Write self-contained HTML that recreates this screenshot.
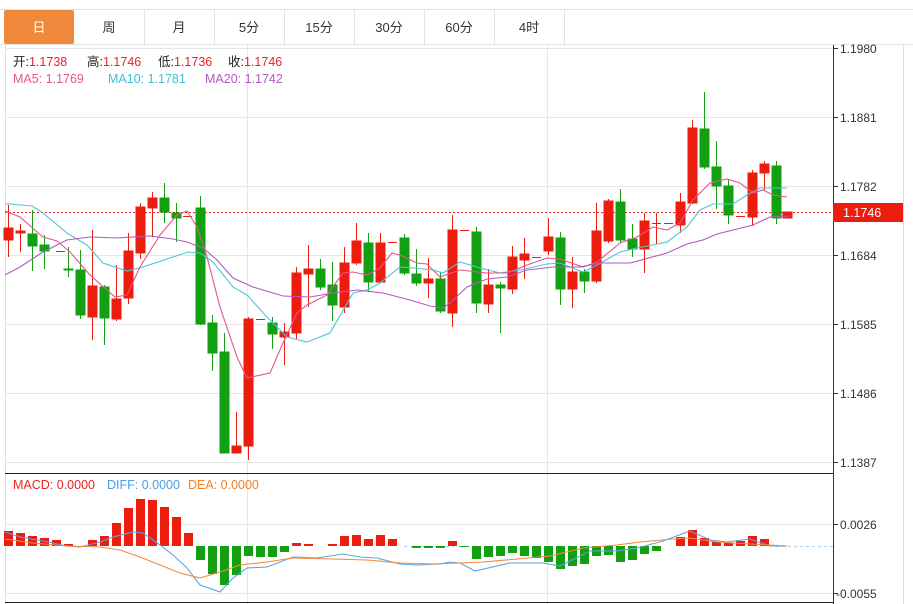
<!DOCTYPE html>
<html><head><meta charset="utf-8"><style>
html,body{margin:0;padding:0;background:#fff;}
svg{display:block;font-family:"Liberation Sans","Noto Sans CJK SC",sans-serif;}
</style></head><body>
<svg width="913" height="604" viewBox="0 0 913 604" xmlns="http://www.w3.org/2000/svg">
<!-- tab bar -->
<line x1="0" y1="9.5" x2="913" y2="9.5" stroke="#e2e2e2"/>
<line x1="0" y1="44.5" x2="913" y2="44.5" stroke="#e2e2e2"/>
<rect x="4" y="10" width="70" height="34" rx="2" fill="#f0893c"/>
<g stroke="#e2e2e2">
<line x1="144.5" y1="10" x2="144.5" y2="44"/><line x1="214.5" y1="10" x2="214.5" y2="44"/><line x1="284.5" y1="10" x2="284.5" y2="44"/><line x1="354.5" y1="10" x2="354.5" y2="44"/><line x1="424.5" y1="10" x2="424.5" y2="44"/><line x1="494.5" y1="10" x2="494.5" y2="44"/><line x1="564.5" y1="10" x2="564.5" y2="44"/>
</g>
<g font-size="13" text-anchor="middle" fill="#333">
<text x="39" y="32" fill="#fff">日</text><text x="109" y="32">周</text><text x="179" y="32">月</text><text x="249" y="32">5分</text><text x="319" y="32">15分</text><text x="389" y="32">30分</text><text x="459" y="32">60分</text><text x="529" y="32">4时</text>
</g>
<!-- frame -->
<line x1="5.5" y1="45" x2="5.5" y2="604" stroke="#ddd"/>
<line x1="903.5" y1="45" x2="903.5" y2="604" stroke="#ddd"/>
<g stroke="#e6e6e6">
<line x1="5" y1="48.5" x2="833" y2="48.5"/><line x1="5" y1="117.5" x2="833" y2="117.5"/><line x1="5" y1="186.5" x2="833" y2="186.5"/><line x1="5" y1="255.5" x2="833" y2="255.5"/><line x1="5" y1="324.5" x2="833" y2="324.5"/><line x1="5" y1="393.5" x2="833" y2="393.5"/><line x1="5" y1="462.5" x2="833" y2="462.5"/>
<line x1="5" y1="524.5" x2="833" y2="524.5"/><line x1="5" y1="593.5" x2="833" y2="593.5"/>
<line x1="247.5" y1="45" x2="247.5" y2="604"/><line x1="547.5" y1="45" x2="547.5" y2="604"/>
</g>
<line x1="833.5" y1="45" x2="833.5" y2="604" stroke="#333"/>
<line x1="5" y1="473.5" x2="833" y2="473.5" stroke="#222"/>
<line x1="5" y1="602.5" x2="833" y2="602.5" stroke="#222"/>
<g stroke="#333"><line x1="833" y1="48.5" x2="838" y2="48.5"/><line x1="833" y1="117.5" x2="838" y2="117.5"/><line x1="833" y1="186.5" x2="838" y2="186.5"/><line x1="833" y1="255.5" x2="838" y2="255.5"/><line x1="833" y1="324.5" x2="838" y2="324.5"/><line x1="833" y1="393.5" x2="838" y2="393.5"/><line x1="833" y1="462.5" x2="838" y2="462.5"/><line x1="833" y1="524.5" x2="838" y2="524.5"/><line x1="833" y1="593.5" x2="838" y2="593.5"/></g>
<g font-size="12" fill="#333">
<text x="840" y="53">1.1980</text><text x="840" y="122">1.1881</text><text x="840" y="191">1.1782</text><text x="840" y="260">1.1684</text><text x="840" y="329">1.1585</text><text x="840" y="398">1.1486</text><text x="840" y="467">1.1387</text>
<text x="840" y="529">0.0026</text><text x="836" y="598">-0.0055</text>
</g>
<!-- legend -->
<g font-size="12.5">
<text x="13" y="66" fill="#222">开:<tspan fill="#e5261f">1.1738</tspan><tspan x="87">高:</tspan><tspan fill="#e5261f">1.1746</tspan><tspan x="158">低:</tspan><tspan fill="#e5261f">1.1736</tspan><tspan x="228">收:</tspan><tspan fill="#e5261f">1.1746</tspan></text>
<text x="13" y="83" fill="#e4558c">MA5: 1.1769</text>
<text x="108" y="83" fill="#3fbfd6">MA10: 1.1781</text>
<text x="205" y="83" fill="#b05ac0">MA20: 1.1742</text>
<text x="13" y="489" fill="#e5261f">MACD: 0.0000</text>
<text x="107" y="489" fill="#4d9ee3">DIFF: 0.0000</text>
<text x="188" y="489" fill="#f0802a">DEA: 0.0000</text>
</g>
<!-- last price line -->
<line x1="5" y1="212.5" x2="833" y2="212.5" stroke="#e5261f" stroke-dasharray="2,2"/>
<rect x="833" y="203" width="70" height="19" fill="#ec1c0f"/>
<text x="843" y="217" font-size="12.5" fill="#fff">1.1746</text>
<!-- candles -->
<g id="c">
<g stroke="#ec1c0f" fill="#ec1c0f">
<line x1="8.5" y1="205" x2="8.5" y2="257"/><rect x="4" y="228" width="9" height="12"/>
<line x1="20.5" y1="224" x2="20.5" y2="252"/><rect x="16" y="231" width="9" height="2"/>
<line x1="56" y1="251.5" x2="65" y2="251.5"/>
<line x1="92.5" y1="230" x2="92.5" y2="340"/><rect x="88" y="286" width="9" height="31"/>
<line x1="116.5" y1="265" x2="116.5" y2="321"/><rect x="112" y="299" width="9" height="20"/>
<line x1="128.5" y1="233" x2="128.5" y2="304"/><rect x="124" y="251" width="9" height="47"/>
<line x1="140.5" y1="203" x2="140.5" y2="259"/><rect x="136" y="207" width="9" height="46"/>
<line x1="152.5" y1="192" x2="152.5" y2="237"/><rect x="148" y="198" width="9" height="10"/>
<line x1="183" y1="216.5" x2="192" y2="216.5"/>
<line x1="236.5" y1="412" x2="236.5" y2="453"/><rect x="232" y="446" width="9" height="7"/>
<line x1="248.5" y1="317" x2="248.5" y2="460"/><rect x="244" y="319" width="9" height="127"/>
<line x1="256" y1="319.5" x2="265" y2="319.5"/>
<line x1="284.5" y1="323" x2="284.5" y2="365"/><rect x="280" y="332" width="9" height="5"/>
<line x1="296.5" y1="267" x2="296.5" y2="339"/><rect x="292" y="273" width="9" height="60"/>
<line x1="308.5" y1="245" x2="308.5" y2="307"/><rect x="304" y="269" width="9" height="5"/>
<line x1="344.5" y1="247" x2="344.5" y2="313"/><rect x="340" y="263" width="9" height="44"/>
<line x1="356.5" y1="223" x2="356.5" y2="265"/><rect x="352" y="241" width="9" height="22"/>
<line x1="380.5" y1="233" x2="380.5" y2="283"/><rect x="376" y="243" width="9" height="39"/>
<line x1="388" y1="242.5" x2="397" y2="242.5"/>
<line x1="428.5" y1="258" x2="428.5" y2="298"/><rect x="424" y="279" width="9" height="4"/>
<line x1="452.5" y1="215" x2="452.5" y2="327"/><rect x="448" y="230" width="9" height="83"/>
<line x1="460" y1="230.5" x2="469" y2="230.5"/>
<line x1="488.5" y1="269" x2="488.5" y2="313"/><rect x="484" y="285" width="9" height="19"/>
<line x1="512.5" y1="246" x2="512.5" y2="294"/><rect x="508" y="257" width="9" height="32"/>
<line x1="524.5" y1="238" x2="524.5" y2="279"/><rect x="520" y="254" width="9" height="6"/>
<line x1="532" y1="257.5" x2="541" y2="257.5"/>
<line x1="548.5" y1="218" x2="548.5" y2="255"/><rect x="544" y="237" width="9" height="14"/>
<line x1="572.5" y1="257" x2="572.5" y2="308"/><rect x="568" y="272" width="9" height="17"/>
<line x1="596.5" y1="203" x2="596.5" y2="283"/><rect x="592" y="231" width="9" height="50"/>
<line x1="608.5" y1="199" x2="608.5" y2="243"/><rect x="604" y="201" width="9" height="40"/>
<line x1="644.5" y1="213" x2="644.5" y2="273"/><rect x="640" y="221" width="9" height="28"/>
<line x1="656.5" y1="213" x2="656.5" y2="244"/><line x1="652" y1="223.5" x2="661" y2="223.5"/>
<line x1="664" y1="223.5" x2="673" y2="223.5"/>
<line x1="680.5" y1="193" x2="680.5" y2="233"/><rect x="676" y="202" width="9" height="23"/>
<line x1="692.5" y1="120" x2="692.5" y2="204"/><rect x="688" y="128" width="9" height="75"/>
<line x1="736" y1="216.5" x2="745" y2="216.5"/>
<line x1="752.5" y1="170" x2="752.5" y2="226"/><rect x="748" y="173" width="9" height="44"/>
<line x1="764.5" y1="161" x2="764.5" y2="190"/><rect x="760" y="164" width="9" height="9"/>
<rect x="783" y="212" width="9" height="6"/>
</g>
<g stroke="#12a012" fill="#12a012">
<line x1="32.5" y1="210" x2="32.5" y2="271"/><rect x="28" y="234" width="9" height="12"/>
<line x1="44.5" y1="235" x2="44.5" y2="269"/><rect x="40" y="245" width="9" height="6"/>
<line x1="68.5" y1="247" x2="68.5" y2="277"/><rect x="64" y="269" width="9" height="1"/>
<line x1="80.5" y1="250" x2="80.5" y2="319"/><rect x="76" y="270" width="9" height="45"/>
<line x1="104.5" y1="285" x2="104.5" y2="345"/><rect x="100" y="287" width="9" height="31"/>
<line x1="164.5" y1="183" x2="164.5" y2="223"/><rect x="160" y="198" width="9" height="14"/>
<line x1="176.5" y1="203" x2="176.5" y2="242"/><rect x="172" y="213" width="9" height="5"/>
<line x1="200.5" y1="196" x2="200.5" y2="325"/><rect x="196" y="208" width="9" height="116"/>
<line x1="212.5" y1="315" x2="212.5" y2="371"/><rect x="208" y="323" width="9" height="30"/>
<line x1="224.5" y1="333" x2="224.5" y2="453"/><rect x="220" y="352" width="9" height="101"/>
<line x1="272.5" y1="317" x2="272.5" y2="349"/><rect x="268" y="323" width="9" height="11"/>
<line x1="320.5" y1="259" x2="320.5" y2="290"/><rect x="316" y="269" width="9" height="18"/>
<line x1="332.5" y1="262" x2="332.5" y2="321"/><rect x="328" y="285" width="9" height="20"/>
<line x1="368.5" y1="233" x2="368.5" y2="292"/><rect x="364" y="243" width="9" height="39"/>
<line x1="404.5" y1="234" x2="404.5" y2="275"/><rect x="400" y="238" width="9" height="35"/>
<line x1="416.5" y1="249" x2="416.5" y2="286"/><rect x="412" y="274" width="9" height="9"/>
<line x1="440.5" y1="272" x2="440.5" y2="313"/><rect x="436" y="279" width="9" height="32"/>
<line x1="476.5" y1="227" x2="476.5" y2="313"/><rect x="472" y="232" width="9" height="71"/>
<line x1="500.5" y1="282" x2="500.5" y2="333"/><rect x="496" y="285" width="9" height="3"/>
<line x1="560.5" y1="232" x2="560.5" y2="305"/><rect x="556" y="238" width="9" height="51"/>
<line x1="584.5" y1="269" x2="584.5" y2="293"/><rect x="580" y="272" width="9" height="9"/>
<line x1="620.5" y1="189" x2="620.5" y2="243"/><rect x="616" y="202" width="9" height="38"/>
<line x1="632.5" y1="224" x2="632.5" y2="257"/><rect x="628" y="239" width="9" height="10"/>
<line x1="704.5" y1="92" x2="704.5" y2="169"/><rect x="700" y="129" width="9" height="38"/>
<line x1="716.5" y1="141" x2="716.5" y2="209"/><rect x="712" y="167" width="9" height="19"/>
<line x1="728.5" y1="179" x2="728.5" y2="224"/><rect x="724" y="186" width="9" height="29"/>
<line x1="776.5" y1="161" x2="776.5" y2="224"/><rect x="772" y="166" width="9" height="52"/>
</g>
</g>
<!-- MA lines -->
<g fill="none" stroke-width="1.1">
<polyline stroke="#4cc5d8" points="5,204 10,204 32,206 43,213 67,233 87,245 103,263 127,271 143,267 173,257 188,252 200,253 213,262 233,287 247,295 267,317 287,337 307,342 330,333 353,293 367,290 380,283 400,267 413,268 433,270 443,273 460,262 480,268 500,273 520,270 547,264 560,263 583,272 597,265 620,252 637,248 667,242 687,227 700,210 713,204 733,204 747,195 760,188 787,188"/>
<polyline stroke="#e4558c" points="5,211 20,217 43,237 57,241 70,252 90,275 115,297 127,295 140,267 160,235 177,215 187,211 197,227 207,257 220,307 237,357 247,378 270,373 283,343 297,313 307,305 327,295 343,273 353,272 367,275 380,268 392,253 400,255 417,263 427,264 440,277 460,270 487,273 507,273 527,265 547,258 560,259 583,267 597,262 620,243 637,237 653,227 667,230 680,223 693,200 710,183 727,179 740,183 753,193 763,190 773,195 787,197"/>
<polyline stroke="#b05ac0" points="5,275 20,267 43,252 67,240 90,237 117,238 133,237 150,236 173,239 187,242 203,248 217,260 233,278 253,287 283,296 310,297 333,293 357,290 383,293 410,300 430,306 443,308 450,303 467,287 487,279 507,277 527,270 553,267 580,267 600,263 630,263 667,253 687,244 703,240 717,234 737,229 753,225 770,217 790,216"/>
</g>
<!-- MACD -->
<line x1="404" y1="546.5" x2="460" y2="546.5" stroke="#a8d0ec" stroke-dasharray="3,3"/>
<line x1="776" y1="546.5" x2="833" y2="546.5" stroke="#a8d0ec" stroke-dasharray="3,3"/>
<g fill="#ec1c0f">
<rect x="4" y="531" width="9" height="15"/><rect x="16" y="533" width="9" height="13"/><rect x="28" y="536" width="9" height="10"/><rect x="40" y="538" width="9" height="8"/><rect x="52" y="540" width="9" height="6"/><rect x="64" y="544" width="9" height="2"/>
<rect x="88" y="540" width="9" height="6"/><rect x="100" y="536" width="9" height="10"/><rect x="112" y="523" width="9" height="23"/><rect x="124" y="508" width="9" height="38"/><rect x="136" y="499" width="9" height="47"/><rect x="148" y="500" width="9" height="46"/><rect x="160" y="507" width="9" height="39"/><rect x="172" y="517" width="9" height="29"/><rect x="184" y="533" width="9" height="13"/>
<rect x="292" y="543" width="9" height="3"/><rect x="304" y="544" width="9" height="2"/><rect x="328" y="544" width="9" height="2"/><rect x="340" y="536" width="9" height="10"/><rect x="352" y="535" width="9" height="11"/><rect x="364" y="539" width="9" height="7"/><rect x="376" y="535" width="9" height="11"/><rect x="388" y="539" width="9" height="7"/><rect x="448" y="541" width="9" height="5"/>
<rect x="676" y="537" width="9" height="9"/><rect x="688" y="530" width="9" height="16"/><rect x="700" y="538" width="9" height="8"/><rect x="712" y="542" width="9" height="4"/><rect x="724" y="543" width="9" height="3"/><rect x="736" y="541" width="9" height="5"/><rect x="748" y="536" width="9" height="10"/><rect x="760" y="539" width="9" height="7"/>
</g>
<g fill="#12a012">
<rect x="196" y="546" width="9" height="14"/><rect x="208" y="546" width="9" height="28"/><rect x="220" y="546" width="9" height="39"/><rect x="232" y="546" width="9" height="29"/><rect x="244" y="546" width="9" height="10"/><rect x="256" y="546" width="9" height="11"/><rect x="268" y="546" width="9" height="11"/><rect x="280" y="546" width="9" height="6"/>
<rect x="412" y="546" width="9" height="2"/><rect x="424" y="546" width="9" height="2"/><rect x="436" y="546" width="9" height="2"/><rect x="460" y="546" width="9" height="1"/>
<rect x="472" y="546" width="9" height="13"/><rect x="484" y="546" width="9" height="11"/><rect x="496" y="546" width="9" height="10"/><rect x="508" y="546" width="9" height="7"/><rect x="520" y="546" width="9" height="10"/><rect x="532" y="546" width="9" height="12"/><rect x="544" y="546" width="9" height="16"/><rect x="556" y="546" width="9" height="23"/><rect x="568" y="546" width="9" height="20"/><rect x="580" y="546" width="9" height="18"/><rect x="592" y="546" width="9" height="10"/><rect x="604" y="546" width="9" height="9"/><rect x="616" y="546" width="9" height="16"/><rect x="628" y="546" width="9" height="14"/><rect x="640" y="546" width="9" height="8"/><rect x="652" y="546" width="9" height="5"/>
</g>
<g fill="none" stroke-width="1.1">
<polyline stroke="#5aa3e6" points="5,532 20,537 43,541 67,546 80,547 100,542 113,537 133,532 143,533 160,545 173,555 187,568 200,585 220,592 233,578 247,568 267,567 293,557 317,558 343,554 360,557 377,558 400,564 417,565 440,564 450,562 460,563 475,571 510,563 543,563 560,566 590,551 617,551 637,548 663,541 690,531 710,540 727,542 750,539 770,546 787,546"/>
<polyline stroke="#f08a3c" points="5,539 33,543 67,546 100,547 120,550 140,557 160,565 180,573 200,578 220,572 240,565 267,562 293,558 333,559 367,560 400,563 433,564 460,563 483,562 517,559 550,556 583,548 617,545 640,542 673,539 690,538 717,542 750,544 787,546"/>
</g>
</svg>
</body></html>
